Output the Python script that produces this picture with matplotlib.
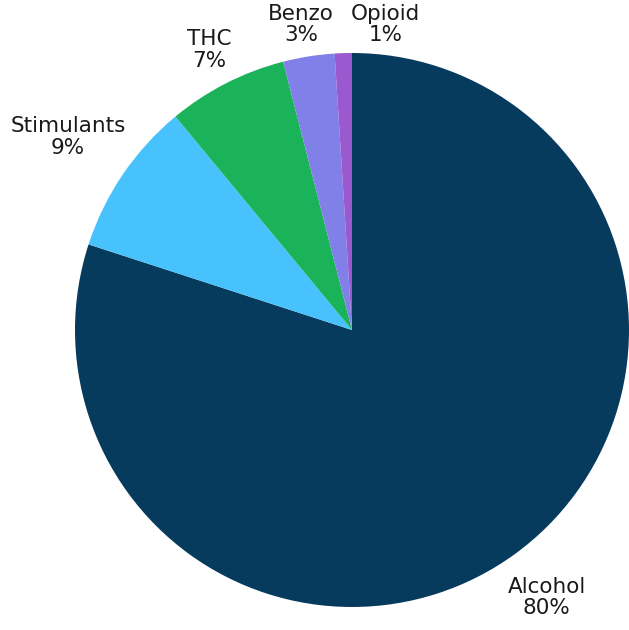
import numpy as np
import matplotlib.pyplot as plt

# Substance shares (percent)
categories = ['Alcohol', 'Stimulants', 'THC', 'Benzo', 'Opioid']
values = [80, 9, 7, 3, 1]
colors = ['#073B5E', '#48C2FC', '#1BB35A', '#8080E8', '#9B59CF']

labels = [f'{c}\n{v}%' for c, v in zip(categories, values)]
# label placement (radius multiple, angle nudge in degrees)
label_dist = [1.195, 1.24, 1.135, 1.117, 1.11]
label_nudge = [0, 0, 0, 0.5, -8]

fig = plt.figure(figsize=(6.29, 6.30), dpi=100)
# pie centre at ~(352, 330) px, radius ~277 px
ax = fig.add_axes([(352 - 277) / 629, (300 - 277) / 630, 554 / 629, 554 / 630])

wedges, _ = ax.pie(values, colors=colors, startangle=90, counterclock=False, radius=1)

for w, lab, d, nud in zip(wedges, labels, label_dist, label_nudge):
    ang = np.deg2rad((w.theta1 + w.theta2) / 2 + nud)
    ax.text(d * np.cos(ang), d * np.sin(ang), lab, ha='center', va='center',
            fontsize=15.5, family='DejaVu Sans', color='#1a1a1a',
            linespacing=1.08, clip_on=False)

ax.set_xlim(-1, 1)
ax.set_ylim(-1, 1)
ax.set_aspect('equal')
ax.axis('off')

plt.savefig('out.png', dpi=100)
